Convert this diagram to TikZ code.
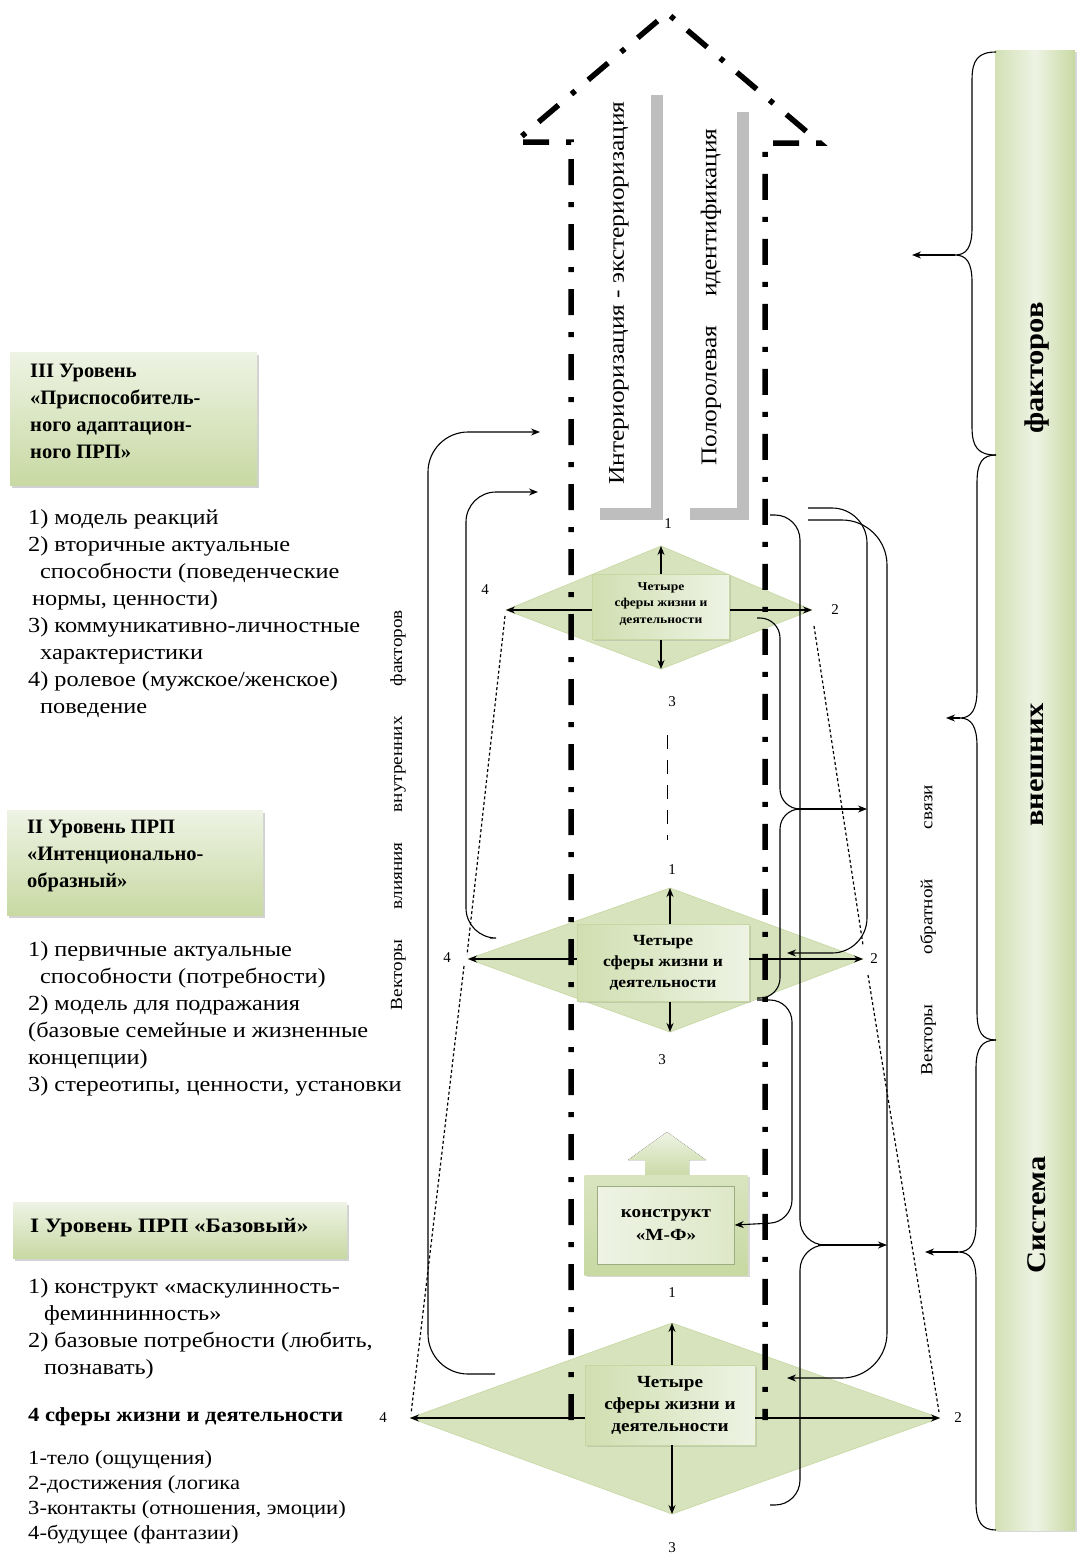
\documentclass[tikz,border=0pt]{standalone}
\usepackage{fontspec}
\setmainfont{Liberation Serif}
\newfontfamily\wide{Liberation Serif}[FakeStretch=1.13]
\usetikzlibrary{arrows.meta,shadows}
\definecolor{dmd}{RGB}{214,227,188}
\definecolor{dmdedge}{RGB}{198,215,162}
\definecolor{bgreen}{RGB}{200,217,163}
\definecolor{lgreen}{RGB}{238,243,228}
\definecolor{greybar}{RGB}{190,190,190}
\begin{document}
\begin{tikzpicture}[x=1pt,y=-1pt,
  >={Stealth[length=9pt,width=7pt]},
  thinln/.style={line width=1.1pt},
  bigdash/.style={line width=5.5pt, dash pattern=on 26pt off 17pt on 5pt off 17pt},
  lvlbox/.style={draw=none, top color=lgreen, bottom color=bgreen, anchor=north west, inner sep=0,
     drop shadow={shadow xshift=2pt, shadow yshift=-3pt, opacity=0.35}},
  dmdfill/.style={fill=dmd, draw=dmdedge, line width=0.6pt},
  inbox/.style={left color=bgreen!85!white, right color=lgreen, draw=dmdedge, line width=0.6pt, inner sep=0,
     drop shadow={shadow xshift=1.5pt, shadow yshift=-1.5pt, opacity=0.25}},
  lbl/.style={font=\fontsize{15}{15}\selectfont, inner sep=0},
  ltxt/.style={font=\wide\fontsize{21.5}{27}\selectfont, align=left, inner sep=0, anchor=north west},
  ttl/.style={font=\fontsize{20.5}{27}\bfseries\selectfont, align=left, inner sep=0, anchor=north west},
  dotln/.style={line width=1.2pt, dash pattern=on 3pt off 2.5pt},
  bartxt/.style={rotate=90, font=\wide\fontsize{27}{27}\bfseries\selectfont},
  ]
\useasboundingbox (0,0) rectangle (1077,1564);
\fill[white] (0,0) rectangle (1077,1564);

% ---------- left level boxes ----------
\node[lvlbox, minimum width=247pt, minimum height=133pt] (box3) at (10,352) {};
\node[ttl] (box3t) at (30,364) {III Уровень\\«Приспособитель-\\ного адаптацион-\\ного ПРП»};
\node[ltxt] (list3) at (28,509) {1) модель реакций\\
2) вторичные актуальные\\
\hspace*{12pt}способности (поведенческие\\
\hspace*{4pt}нормы, ценности)\\
3) коммуникативно-личностные\\
\hspace*{12pt}характеристики\\
4) ролевое (мужское/женское)\\
\hspace*{12pt}поведение};

\node[lvlbox, minimum width=256pt, minimum height=105pt] (box2) at (7,810) {};
\node[ttl] (box2t) at (27,820) {II Уровень ПРП\\«Интенционально-\\образный»};
\node[ltxt] (list2) at (28,941) {1) первичные актуальные\\
\hspace*{12pt}способности (потребности)\\
2) модель для подражания\\
(базовые семейные и жизненные\\
концепции)\\
3) стереотипы, ценности, установки};

\node[lvlbox, minimum width=334pt, minimum height=56pt] (box1) at (13,1202) {};
\node[ttl, anchor=west, font=\wide\fontsize{20.5}{27}\bfseries\selectfont] (box1t) at (30,1228) {I Уровень ПРП «Базовый»};
\node[ltxt] (list1) at (28,1278) {1) конструкт «маскулинность-\\
\hspace*{16pt}феминнинность»\\
2) базовые потребности (любить,\\
\hspace*{16pt}познавать)};
\node[ttl, anchor=west, font=\wide\fontsize{20}{27}\bfseries\selectfont] (spheres) at (28,1417) {4 сферы жизни и деятельности};
\node[ltxt, font=\wide\fontsize{20}{25}\selectfont] (list1b) at (28,1450) {1-тело (ощущения)\\
2-достижения (логика\\
3-контакты (отношения, эмоции)\\
4-будущее (фантазии)};

% ---------- right bar ----------
\node[draw=none, left color=bgreen!80!white, right color=bgreen, middle color=lgreen, shading angle=90,
  minimum width=80pt, minimum height=1480pt, inner sep=0, anchor=north west,
  drop shadow={shadow xshift=2pt, shadow yshift=-2pt, opacity=0.3}] (bar) at (995,50) {};
\node[bartxt] (f1) at (1037,368) {факторов};
\node[bartxt] (f2) at (1037,765) {внешних};
\node[bartxt] (f3) at (1037,1215) {Система};

% braces
\coordinate (c1) at (955,255); \coordinate (a1) at (912,255);
\coordinate (c2) at (960,718); \coordinate (a2) at (946,718);
\coordinate (c3) at (958,1252); \coordinate (a3) at (925,1252);
\draw[thinln] (996,52) .. controls (978,52) and (972,60) .. (972,80) -- (972,228) .. controls (972,248) and (966,255) .. (c1)
  .. controls (966,255) and (972,262) .. (972,282) -- (972,427) .. controls (972,447) and (978,455) .. (996,455);
\draw[thinln] (996,455) .. controls (982,455) and (977,463) .. (977,483) -- (977,690) .. controls (977,710) and (971,718) .. (c2)
  .. controls (971,718) and (977,726) .. (977,746) -- (977,1012) .. controls (977,1032) and (982,1040) .. (996,1040);
\draw[thinln] (996,1040) .. controls (982,1040) and (976,1048) .. (976,1068) -- (976,1224) .. controls (976,1244) and (970,1252) .. (c3)
  .. controls (970,1252) and (976,1260) .. (976,1280) -- (976,1502) .. controls (976,1522) and (982,1530) .. (996,1530);
\draw[thinln,->] (c1) -- (a1);
\draw[thinln,->] (c2) -- (a2);
\draw[thinln,->] (c3) -- (a3);

\node[rotate=90, font=\wide\fontsize{17}{17}\selectfont] (vos) at (928,930) {\makebox[290pt]{Векторы\hfill обратной\hfill связи}};
\node[rotate=90, font=\wide\fontsize{17}{17}\selectfont] (vvl) at (398,810) {\makebox[400pt]{Векторы\hfill влияния\hfill внутренних\hfill факторов}};

% ---------- diamonds ----------
\coordinate (t4) at (506,610); \coordinate (t2) at (812,610); \coordinate (t1) at (661,546); \coordinate (t3) at (661,669);
\coordinate (m4) at (468,959); \coordinate (m2) at (863,959); \coordinate (m1) at (670,888); \coordinate (m3) at (670,1032);
\coordinate (b4) at (410,1418); \coordinate (b2) at (940,1418); \coordinate (b1) at (672,1323); \coordinate (b3) at (672,1514);
\filldraw[dmdfill] (t4) -- (t1) -- (t2) -- (t3) -- cycle;
\filldraw[dmdfill] (m4) -- (m1) -- (m2) -- (m3) -- cycle;
\filldraw[dmdfill] (b4) -- (b1) -- (b2) -- (b3) -- cycle;

% dotted side lines
\draw[dotln] (505,616) -- (467,955);
\draw[dotln] (464,966) -- (411,1414);
\draw[dotln] (814,626) -- (863,945);
\draw[dotln] (868,975) -- (939,1412);
\draw[line width=1pt, dash pattern=on 14pt off 11pt] (667,735) -- (667,840);

% ---------- heavy dash-dot arrow ----------
\draw[bigdash] (571,1420) -- (571,142) -- (515,142) -- (667,13) -- (820,143) -- (765,143) -- (765,1420);

% grey bars
\fill[greybar] (651,95) rectangle (663,520);
\fill[greybar] (600,508) rectangle (663,520);
\fill[greybar] (737,112) rectangle (749,520);
\fill[greybar] (690,508) rectangle (749,520);
\node[rotate=90, font=\wide\fontsize{22.5}{22}\selectfont] (intext) at (619,293) {Интериоризация - экстериоризация};
\node[rotate=90, font=\wide\fontsize{22.5}{22}\selectfont] (potext) at (711,297) {\makebox[337pt]{Полоролевая\hfill идентификация}};

% ---------- boxes in diamonds ----------
\node[inbox, minimum width=137pt, minimum height=65pt] (tbox) at (661,607) {};
\begin{scope}
\clip (595,577) rectangle (728,629);
\node[font=\wide\fontsize{12}{16.5}\bfseries\selectfont, align=center, anchor=north, inner sep=0] (tboxt) at (661,582) {Четыре\\сферы жизни и\\деятельности};
\end{scope}
\node[inbox, minimum width=172pt, minimum height=77pt, font=\wide\fontsize{15.5}{21}\bfseries\selectfont, align=center] (mbox) at (663,963) {Четыре\\сферы жизни и\\деятельности};
\node[inbox, minimum width=170pt, minimum height=80pt, font=\wide\fontsize{17}{22}\bfseries\selectfont, align=center] (bbox) at (670,1405) {Четыре\\сферы жизни и\\деятельности};

% construct box
\fill[top color=lgreen, bottom color=bgreen] (645,1178) -- (645,1160) -- (628,1160) -- (667,1132) -- (706,1160) -- (689,1160) -- (689,1178) -- cycle;
\node[draw=none, top color=bgreen!70!white, bottom color=bgreen, minimum width=163pt, minimum height=100pt, inner sep=0,
  drop shadow={shadow xshift=2pt, shadow yshift=-2pt, opacity=0.3}] (kbox) at (666,1225) {};
\node[draw=dmdedge!80!black, line width=0.5pt, left color=lgreen, right color=bgreen!60!white, minimum width=137pt, minimum height=78pt, inner sep=0,
  font=\wide\fontsize{17}{23}\bfseries\selectfont, align=center] (kin) at (666,1225) {конструкт\\«М-Ф»};

% diamond arrows
\draw[thinln,->] (tbox.north) -- (t1);
\draw[thinln,->] (tbox.south) -- (t3);
\draw[thinln,->] (tbox.west |- t4) -- (t4);
\draw[thinln,->] (tbox.east |- t2) -- (t2);
\draw[thinln,->] (mbox.north -| m1) -- (m1);
\draw[thinln,->] (mbox.south -| m3) -- (m3);
\draw[thinln,->] (mbox.west |- m4) -- (m4);
\draw[thinln,->] (mbox.east |- m2) -- (m2);
\draw[thinln,->] (bbox.north -| b1) -- (b1);
\draw[thinln,->] (bbox.south -| b3) -- (b3);
\draw[thinln,->] (bbox.west |- b4) -- (b4);
\draw[thinln,->] (bbox.east |- b2) -- (b2);

% ---------- left feedback curves ----------
\coordinate (lo1) at (495,1374); \coordinate (lo2) at (540,432);
\coordinate (li1) at (490,938); \coordinate (li2) at (538,492);
\draw[thinln,->,rounded corners=40pt] (lo1) -- (428,1374) -- (428,432) -- (lo2);
\draw[thinln,->,rounded corners=30pt] (li1) -- (466,938) -- (466,492) -- (li2);

% ---------- right feedback curves ----------
\coordinate (r1s) at (808,508); \coordinate (r1e) at (787,953);
\coordinate (r2s) at (808,520); \coordinate (r2e) at (787,1378);
\draw[thinln,->,rounded corners=35pt] (r1s) -- (867,508) -- (867,953) -- (r1e);
\draw[thinln,->,rounded corners=45pt] (r2s) -- (887,520) -- (887,1378) -- (r2e);
% brace B1 (levels III-II)
\coordinate (bc1) at (797,809); \coordinate (ba1) at (867,809);
\draw[thinln,rounded corners=20pt] (757,618) -- (780,618) -- (780,809) -- (bc1);
\draw[thinln,rounded corners=20pt] (bc1) -- (780,809) -- (780,998) -- (757,998);
\draw[thinln,->] (bc1) -- (ba1);
% to construct
\draw[thinln,->,rounded corners=22pt] (757,1000) -- (792,1000) -- (792,1222) -- (kin.east);
% long brace
\coordinate (bc2) at (818,1245); \coordinate (ba2) at (887,1245);
\draw[thinln,rounded corners=25pt] (770,515) -- (800,515) -- (800,1245) -- (bc2);
\draw[thinln,rounded corners=25pt] (bc2) -- (800,1245) -- (800,1505) -- (770,1505);
\draw[thinln,->] (bc2) -- (ba2);

% ---------- number labels ----------
\node[lbl] (n1t) at (668,524) {1};
\node[lbl] (n2t) at (835,610) {2};
\node[lbl] (n3t) at (672,702) {3};
\node[lbl] (n4t) at (485,590) {4};
\node[lbl] (n1m) at (672,870) {1};
\node[lbl] (n2m) at (874,959) {2};
\node[lbl] (n3m) at (662,1060) {3};
\node[lbl] (n4m) at (447,958) {4};
\node[lbl] (n1b) at (672,1293) {1};
\node[lbl] (n2b) at (958,1418) {2};
\node[lbl] (n3b) at (672,1548) {3};
\node[lbl] (n4b) at (383,1418) {4};
\end{tikzpicture}
\end{document}
